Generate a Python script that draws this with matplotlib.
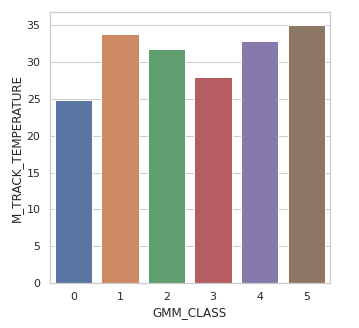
import matplotlib
matplotlib.use("Agg")
import matplotlib.pyplot as plt
import seaborn as sns
import pandas as pd

sns.set_theme(style="whitegrid")

gmm_class = [0, 1, 2, 3, 4, 5]
track_temperature = [24.9, 33.8, 31.7, 28.0, 32.9, 35.0]

df = pd.DataFrame({"GMM_CLASS": gmm_class, "M_TRACK_TEMPERATURE": track_temperature})

fig = plt.figure(figsize=(359 / 72, 328 / 72), dpi=72)
ax = fig.add_axes([50 / 359, 1 - 283 / 328, (329.5 - 50) / 359, (283 - 12.3) / 328])
sns.barplot(data=df, x="GMM_CLASS", y="M_TRACK_TEMPERATURE", hue="GMM_CLASS",
            palette="deep", legend=False, ax=ax, saturation=0.75)
ax.set_ylim(0, 36.75)
fig.savefig("out.png", dpi=72)
